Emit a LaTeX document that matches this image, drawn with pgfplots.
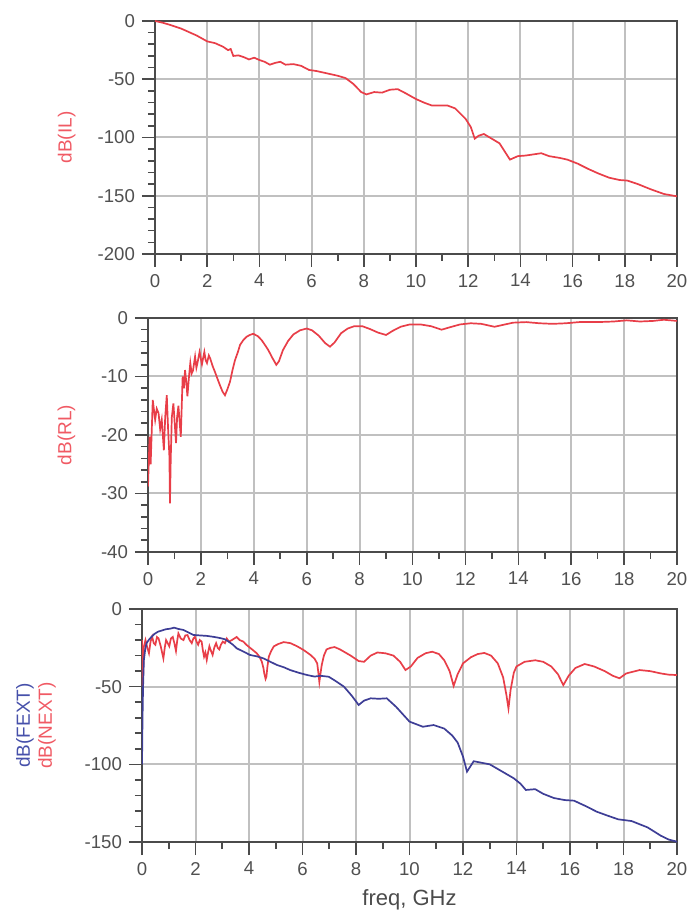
\documentclass[border=0pt]{standalone}
\usepackage{pgfplots}
\pgfplotsset{compat=1.18}
\usepackage{fontspec}
\setmainfont{Liberation Sans}
\definecolor{lred}{RGB}{232,62,72}
\definecolor{labred}{RGB}{240,90,100}
\definecolor{lblue}{RGB}{62,62,150}
\definecolor{labblue}{RGB}{70,80,170}
\definecolor{axgray}{RGB}{75,75,75}
\definecolor{gridgray}{RGB}{192,192,192}
\definecolor{tickgray}{RGB}{80,80,80}
\pgfplotsset{
  adsstyle/.style={
    scale only axis,
    anchor=south west,
    xmin=0, xmax=20,
    xtick={0,2,...,20},
    minor x tick num=1,
    minor y tick num=4,
    tick align=outside,
    xtick pos=bottom, ytick pos=left,
    major tick length=6.5pt,
    minor tick length=3.5pt,
    axis line style={axgray, line width=0.9pt},
    every tick/.style={axgray, line width=0.8pt},
    grid=major,
    major grid style={gridgray, line width=1pt},
    tick label style={font=\fontsize{9.3}{10}\selectfont, text=tickgray},
    /pgf/number format/assume math mode=true,
    ylabel style={font=\fontsize{9.5}{11}\selectfont, anchor=center},
    clip=true,
  }
}
\begin{document}
\begin{tikzpicture}
\path[use as bounding box] (0,0) rectangle (344pt,455.5pt);
% ---------------- top: IL
\begin{axis}[adsstyle, at={(77.5pt,328.5pt)}, width=261pt, height=116.5pt,
  ymin=-200, ymax=0, ytick={-200,-150,-100,-50,0},
  ylabel={dB(IL)}, ylabel style={text=labred, at={(axis description cs:-0.169,0.5)}}]
\addplot[lred, line width=0.85pt] coordinates {
(0,0) (0.3,-1.5) (0.6,-3.5) (1,-6.5) (1.3,-9.5) (1.6,-12.5) (2,-17.5) (2.3,-19) (2.6,-22)
(2.8,-25) (2.9,-24) (3.0,-30) (3.2,-29.5) (3.4,-31) (3.6,-33) (3.8,-31.5) (4,-33.5) (4.2,-35)
(4.4,-37.5) (4.6,-36) (4.8,-35) (5,-37.5) (5.3,-37) (5.6,-38.5) (5.9,-42) (6.2,-43)
(6.5,-44.5) (6.8,-46) (7,-47) (7.3,-49) (7.6,-54) (7.9,-61) (8.1,-63) (8.4,-61) (8.7,-61.5)
(9.0,-59) (9.3,-58.5) (9.6,-62) (10,-67) (10.3,-70) (10.6,-72.5) (11.2,-72.5) (11.5,-75)
(11.9,-84) (12.1,-91) (12.25,-101) (12.4,-98.5) (12.6,-97) (12.9,-101) (13.2,-105) (13.4,-112)
(13.6,-119) (13.9,-116) (14.2,-115.5) (14.5,-114.5) (14.8,-113.5) (15.1,-116) (15.5,-117.5)
(15.8,-119) (16.2,-122.5) (16.6,-127) (17.0,-131) (17.4,-134.5) (17.8,-136.5) (18.1,-137)
(18.5,-140) (19,-144.5) (19.5,-148.5) (20,-150.5)
};
\end{axis}
% ---------------- middle: RL
\begin{axis}[adsstyle, at={(74pt,179.5pt)}, width=264.5pt, height=117pt,
  ymin=-40, ymax=0, ytick={-40,-30,-20,-10,0},
  ylabel={dB(RL)}, ylabel style={text=labred, at={(axis description cs:-0.154,0.5)}}]
\addplot[lred, line width=0.85pt] coordinates {
(0,-28.8) (0.06,-20.3) (0.1,-25) (0.18,-14) (0.27,-17.4) (0.33,-15.5) (0.4,-16.3) (0.46,-19)
(0.52,-17.4) (0.6,-22.6) (0.65,-17) (0.71,-13.2) (0.76,-19) (0.81,-23.7) (0.83,-31.7) (0.86,-24)
(0.9,-17) (0.96,-14.6) (1.01,-18) (1.06,-21.4) (1.1,-17) (1.15,-15) (1.2,-18) (1.24,-20.3)
(1.31,-10) (1.36,-12) (1.4,-8.9) (1.45,-11) (1.49,-13.4) (1.55,-10) (1.6,-7.7) (1.65,-9.5)
(1.7,-9) (1.78,-6.6) (1.83,-8.5) (1.87,-7.7) (1.95,-5.8) (2.0,-7) (2.04,-7.9) (2.13,-5.8)
(2.18,-7.2) (2.23,-7.7) (2.3,-6.4) (2.35,-6.9) (2.45,-8.3) (2.53,-9.2) (2.62,-10.3) (2.72,-11.5)
(2.82,-12.6) (2.91,-13.2) (3.0,-12.2) (3.1,-10.9) (3.2,-8.8) (3.29,-7.2) (3.4,-5.8) (3.48,-4.6)
(3.6,-3.8) (3.73,-3.2) (3.85,-2.9) (3.98,-2.7) (4.15,-3.1) (4.3,-3.8) (4.45,-4.8) (4.55,-5.5)
(4.7,-6.8) (4.85,-8) (4.95,-7.4) (5.1,-5.5) (5.3,-3.9) (5.5,-2.8) (5.75,-2.1) (6.0,-1.8)
(6.2,-2.1) (6.45,-3) (6.7,-4.3) (6.88,-4.9) (7.05,-4.2) (7.3,-2.6) (7.55,-1.8) (7.8,-1.4)
(8.1,-1.4) (8.4,-1.9) (8.7,-2.5) (9.0,-2.9) (9.25,-2.2) (9.55,-1.5) (9.9,-1.1) (10.3,-1.1)
(10.7,-1.4) (11.1,-2.0) (11.4,-1.6) (11.8,-1.1) (12.2,-0.9) (12.6,-1.0) (12.9,-1.3) (13.1,-1.5)
(13.4,-1.2) (13.8,-0.8) (14.3,-0.7) (14.8,-0.9) (15.3,-1.0) (15.8,-0.9) (16.3,-0.7)
(17,-0.7) (17.6,-0.6) (18.1,-0.4) (18.6,-0.6) (19.1,-0.5) (19.5,-0.3) (20,-0.5)
};
\end{axis}
% ---------------- bottom: FEXT / NEXT
\begin{axis}[adsstyle, at={(71pt,34.5pt)}, width=267.5pt, height=116.5pt,
  ymin=-150, ymax=0, ytick={-150,-100,-50,0},
  ylabel={\textcolor{labblue}{dB(FEXT)}\\\textcolor{labred}{dB(NEXT)}},
  ylabel style={align=center, at={(axis description cs:-0.198,0.5)}, font=\fontsize{9.5}{11}\selectfont},
  xlabel={freq, GHz},
  xlabel style={at={(axis description cs:0.5,-0.25)}, anchor=center, text=axgray, font=\fontsize{11}{13}\selectfont}]
\addplot[lred, line width=0.85pt] coordinates {
(0,-20) (0.03,-50) (0.07,-24.3) (0.13,-20) (0.2,-25) (0.26,-28.5) (0.32,-21) (0.38,-17.8)
(0.44,-22) (0.5,-23) (0.56,-18) (0.62,-19) (0.7,-24) (0.8,-31.8) (0.85,-25) (0.9,-20)
(0.96,-22) (1.02,-24) (1.08,-19) (1.15,-18) (1.21,-22) (1.27,-27) (1.32,-20) (1.36,-15.7)
(1.45,-19) (1.55,-20) (1.62,-17) (1.7,-16.8) (1.78,-20) (1.86,-22) (1.92,-19) (1.98,-18)
(2.04,-21) (2.1,-23) (2.16,-20) (2.23,-21) (2.28,-27) (2.32,-30.7) (2.37,-28) (2.42,-32.8)
(2.47,-28) (2.52,-24) (2.58,-27) (2.64,-29.6) (2.7,-25) (2.77,-22) (2.83,-25) (2.89,-26)
(2.95,-23) (3.02,-21) (3.1,-22) (3.17,-19) (3.25,-21) (3.36,-20) (3.45,-19) (3.54,-18)
(3.65,-20) (3.79,-21) (3.9,-23) (4.04,-25) (4.15,-26.5) (4.29,-28.5) (4.4,-31) (4.48,-34)
(4.54,-38) (4.57,-41.4) (4.62,-45) (4.65,-43.6) (4.69,-37) (4.74,-30.7) (4.83,-27) (4.93,-24)
(5.1,-22.5) (5.3,-21.3) (5.55,-22) (5.8,-24) (6.05,-26.5) (6.3,-29.6) (6.45,-32) (6.55,-35)
(6.6,-42) (6.63,-47) (6.67,-42) (6.72,-36) (6.8,-30) (6.9,-26) (7.05,-25) (7.2,-24.5)
(7.4,-26) (7.55,-27.5) (7.8,-30) (8.1,-33.5) (8.3,-34) (8.55,-30) (8.8,-28) (9.1,-28.5)
(9.4,-30) (9.65,-34) (9.85,-39.3) (10.05,-37) (10.3,-31.5) (10.6,-28.5) (10.85,-27.5)
(11.1,-29) (11.3,-33) (11.5,-40) (11.65,-49.5) (11.8,-42) (12.0,-35) (12.3,-31) (12.55,-29)
(12.8,-28.3) (13.05,-30) (13.3,-35) (13.5,-44) (13.62,-55) (13.7,-64) (13.78,-52) (13.9,-41)
(14.0,-37) (14.3,-34) (14.7,-33) (15.0,-34) (15.3,-37) (15.55,-42) (15.75,-49) (15.95,-43)
(16.2,-38) (16.55,-35.4) (16.9,-37) (17.3,-40) (17.6,-43) (17.85,-44.6) (18.1,-41.5)
(18.6,-39.3) (19.0,-40) (19.4,-41.5) (19.7,-42.3) (20,-42.5)
};
\addplot[lblue, line width=0.85pt] coordinates {
(0,-100) (0.02,-70) (0.04,-50) (0.07,-32.8) (0.12,-26) (0.17,-22) (0.25,-20) (0.35,-18)
(0.47,-16) (0.6,-14.6) (0.75,-13.8) (0.9,-13) (1.05,-12.7) (1.2,-12) (1.35,-12.8) (1.55,-13.5)
(1.72,-15) (1.92,-16.7) (2.15,-17) (2.42,-17.3) (2.7,-18) (2.92,-18.7) (3.1,-19.5) (3.24,-21)
(3.4,-23) (3.54,-25.3) (3.8,-27.5) (4.04,-29.6) (4.3,-30.5) (4.54,-31.8) (4.8,-34) (5.04,-36)
(5.3,-37.5) (5.54,-39.3) (5.85,-41) (6.17,-42.5) (6.45,-43.5) (6.67,-43) (6.98,-43.6)
(7.25,-46.5) (7.55,-50) (7.85,-56) (8.1,-61.8) (8.3,-59) (8.55,-57.5) (8.85,-57.8) (9.15,-57.5)
(9.5,-63) (10.0,-72.5) (10.5,-75.8) (10.9,-74.7) (11.3,-77) (11.6,-81.5) (11.8,-86)
(12.0,-95) (12.15,-104.7) (12.4,-98) (12.7,-99) (13.0,-100) (13.4,-104) (13.9,-109)
(14.15,-112.5) (14.35,-116.5) (14.7,-116) (15.0,-119) (15.4,-121.7) (15.8,-123) (16.15,-123.4)
(16.6,-127) (17.0,-130.5) (17.4,-133) (17.8,-135.4) (18.3,-136.5) (18.9,-140.6) (19.4,-146)
(19.7,-148.5) (20,-149.8)
};
\end{axis}
\end{tikzpicture}
\end{document}
